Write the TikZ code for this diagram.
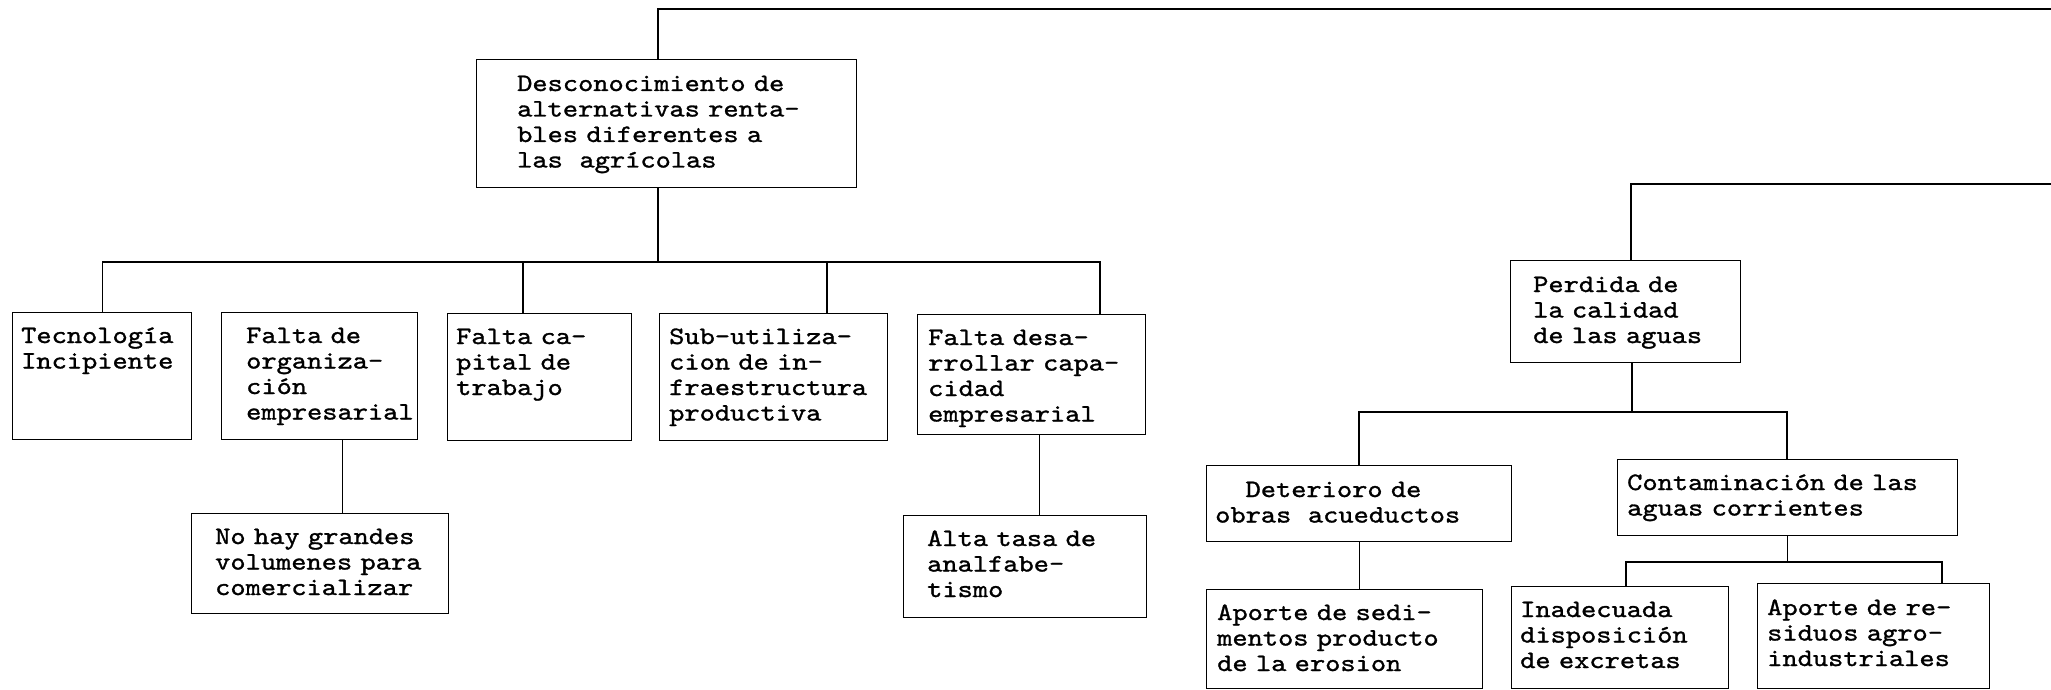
\documentclass[tikz,border=0pt]{standalone}
\usepackage{fontspec}
\usepackage{tikz}
\usetikzlibrary{positioning,calc}
\newfontfamily\maquina{lmmono10-regular}[Extension=.otf, FakeStretch=1.16, FakeBold=1.2]
\newcommand\letramaquina{\maquina\fontsize{25}{25.5}\selectfont
	\spaceskip=15.2pt plus 0pt minus 0pt\relax\xspaceskip=\spaceskip}

\tikzset{
	caja/.style={draw, line width=1.4pt, anchor=north west, inner sep=0pt},
	texto/.style={anchor=base west, inner sep=0pt, align=left, text width=340pt,
		font=\letramaquina},
	linea/.style={line width=1.4pt},
}

\begin{document}
\begin{tikzpicture}[x=1pt, y=-1pt]
	\useasboundingbox (0,0) rectangle (2051,690);

	\node[caja, minimum width=380, minimum height=128] (desc) at (476,59) {};
	\node[texto] (desc-t) at ([shift={(41,32)}]desc.north west) {Desconocimiento de\\alternativas renta-\\bles diferentes a\\las\ \ agrícolas};

	\node[caja, minimum width=179, minimum height=127] (tec) at (12,312) {};
	\node[texto] (tec-t) at ([shift={(9,31)}]tec.north west) {Tecnología\\Incipiente};
	\node[caja, minimum width=196, minimum height=127] (org) at (221,312) {};
	\node[texto] (org-t) at ([shift={(25,31)}]org.north west) {Falta de\\organiza-\\ción\\empresarial};
	\node[caja, minimum width=184, minimum height=127] (cap) at (447,313) {};
	\node[texto] (cap-t) at ([shift={(9,31)}]cap.north west) {Falta ca-\\pital de\\trabajo};
	\node[caja, minimum width=228, minimum height=127] (sub) at (659,313) {};
	\node[texto] (sub-t) at ([shift={(10,31)}]sub.north west) {Sub-utiliza-\\cion de in-\\fraestructura\\productiva};
	\node[caja, minimum width=228, minimum height=120] (des) at (917,314) {};
	\node[texto] (des-t) at ([shift={(11,31)}]des.north west) {Falta desa-\\rrollar capa-\\cidad\\empresarial};

	\node[caja, minimum width=257, minimum height=100] (nohay) at (191,513) {};
	\node[texto] (nohay-t) at ([shift={(24,31)}]nohay.north west) {No hay grandes\\volumenes para\\comercializar};
	\node[caja, minimum width=243, minimum height=102] (alta) at (903,515) {};
	\node[texto] (alta-t) at ([shift={(24,31)}]alta.north west) {Alta tasa de\\analfabe-\\tismo};

	\node[caja, minimum width=230, minimum height=102] (perd) at (1510,260) {};
	\node[texto] (perd-t) at ([shift={(23,32)}]perd.north west) {Perdida de\\la calidad\\de las aguas};
	\node[caja, minimum width=305, minimum height=76] (det) at (1206,465) {};
	\node[texto] (det-t) at ([shift={(9,32)}]det.north west) {\hspace*{30.4pt}Deterioro de\\obras\ \ acueductos};
	\node[caja, minimum width=340, minimum height=76] (con) at (1617,459) {};
	\node[texto] (con-t) at ([shift={(10,31)}]con.north west) {Contaminación de las\\aguas corrientes};

	\node[caja, minimum width=276, minimum height=99] (sed) at (1206,589) {};
	\node[texto] (sed-t) at ([shift={(11,31)}]sed.north west) {Aporte de sedi-\\mentos producto\\de la erosion};
	\node[caja, minimum width=217, minimum height=102] (ina) at (1511,586) {};
	\node[texto] (ina-t) at ([shift={(9,31)}]ina.north west) {Inadecuada\\disposición\\de excretas};
	\node[caja, minimum width=232, minimum height=105] (res) at (1757,583) {};
	\node[texto] (res-t) at ([shift={(10,32)}]res.north west) {Aporte de re-\\siduos agro-\\industriales};

	\coordinate (borde1) at (2051,9);
	\coordinate (codo1) at (658,9);
	\draw[linea] (borde1) -- (codo1) -- (codo1 |- desc.north);
	\coordinate (b1) at (658,262);
	\coordinate (b1c) at (523,262);
	\coordinate (b1s) at (827,262);
	\coordinate (b1d) at (1100,262);
	\draw[linea] (b1 |- desc.south) -- (b1);
	\draw[linea] (tec.north) |- (b1d) -- (b1d |- des.north);
	\draw[linea] (b1c) -- (b1c |- cap.north);
	\draw[linea] (b1s) -- (b1s |- sub.north);
	\coordinate (o1) at ([xshift=23pt]org.south);
	\draw[linea] (o1) -- (o1 |- nohay.north);
	\coordinate (d1) at ([xshift=8pt]des.south);
	\draw[linea] (d1) -- (d1 |- alta.north);

	\coordinate (borde2) at (2051,184);
	\coordinate (codo2) at (1631,184);
	\draw[linea] (borde2) -- (codo2) -- (codo2 |- perd.north);
	\coordinate (b2) at (1632,412);
	\coordinate (b2i) at (1359,412);
	\coordinate (b2d) at (1787,412);
	\draw[linea] (b2 |- perd.south) -- (b2);
	\draw[linea] (b2i |- det.north) -- (b2i) -- (b2d) -- (b2d |- con.north);
	\draw[linea] (det.south) -- (det.south |- sed.north);
	\coordinate (b3) at (1788,562);
	\coordinate (b3i) at (1626,562);
	\coordinate (b3d) at (1942,562);
	\draw[linea] (con.south) -- (con.south |- b3);
	\draw[linea] (b3i |- ina.north) -- (b3i) -- (b3d) -- (b3d |- res.north);
\end{tikzpicture}
\end{document}
